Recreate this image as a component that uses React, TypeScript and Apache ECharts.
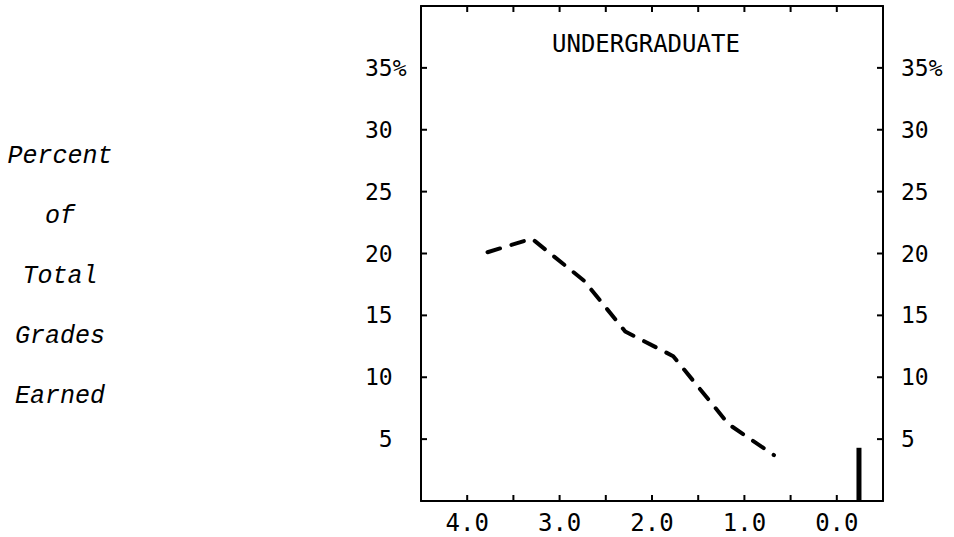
import React, { useEffect, useRef } from "react";
import * as echarts from "echarts";

// Grade-point positions (x) and percent of total grades earned (y)
const gradePoints = [3.78, 3.3, 2.735, 2.29, 1.77, 1.17, 0.68];
const percentEarned = [20.1, 21.2, 17.8, 13.7, 11.7, 6.2, 3.7];
// Failing-grade spike near 0.0
const spikeGrade = [-0.24];
const spikePercent = [4.3];

const chartTitle = "UNDERGRADUATE";
const yTitleLines = ["Percent", "of", "Total", "Grades", "Earned"];
const xTickValues = [4, 3.5, 3, 2.5, 2, 1.5, 1, 0.5, 0];
const yTickValues = [5, 10, 15, 20, 25, 30, 35];
const xMin = -0.5;
const xMax = 4.5;
const yMin = 0;
const yMax = 40;

const MONO = "'DejaVu Sans Mono', 'Liberation Mono', monospace";
const TICK = 6;

function yLabelLeft(v: number): string {
  if (v <= yMin || v >= yMax) return "";
  if (v === 35) return "35%";
  return v < 10 ? " " + v : String(v);
}
function yLabelRight(v: number): string {
  if (v <= yMin || v >= yMax) return "";
  if (v === 35) return "35%";
  return String(v);
}
function xLabel(v: number): string {
  return Number.isInteger(v) && v >= 0 && v <= 4 ? v.toFixed(1) : "";
}

const mkLine = () => ({ show: true, onZero: false, lineStyle: { color: "#000", width: 2 } });
const tickStyle = { stroke: "#000", lineWidth: 2 };

export default function App() {
  const ref = useRef<HTMLDivElement>(null);
  useEffect(() => {
    if (!ref.current) return;
    const chart = echarts.init(ref.current, undefined, { renderer: "svg" });
    chart.setOption({
      animation: false,
      backgroundColor: "#fff",
      title: {
        text: chartTitle,
        left: 547,
        top: 27,
        textStyle: { fontFamily: MONO, fontSize: 24, fontWeight: "normal", color: "#000" },
      },
      grid: { left: 421, right: 71, top: 6, bottom: 36, containLabel: false },
      xAxis: [
        {
          type: "value",
          position: "bottom",
          min: xMin,
          max: xMax,
          interval: 0.5,
          inverse: true,
          axisLine: mkLine(),
          axisTick: { show: false },
          splitLine: { show: false },
          axisLabel: {
            formatter: xLabel,
            margin: 10,
            color: "#000",
            fontFamily: MONO,
            fontSize: 24,
          },
        },
        {
          type: "value",
          position: "top",
          min: xMin,
          max: xMax,
          interval: 0.5,
          inverse: true,
          axisLine: mkLine(),
          axisTick: { show: false },
          splitLine: { show: false },
          axisLabel: { show: false },
        },
      ],
      yAxis: [
        {
          type: "value",
          position: "left",
          min: yMin,
          max: yMax,
          interval: 5,
          axisLine: mkLine(),
          axisTick: { show: false },
          splitLine: { show: false },
          axisLabel: {
            formatter: yLabelLeft,
            align: "left",
            margin: 56,
            color: "#000",
            fontFamily: MONO,
            fontSize: 23,
          },
        },
        {
          type: "value",
          position: "right",
          min: yMin,
          max: yMax,
          interval: 5,
          axisLine: mkLine(),
          axisTick: { show: false },
          splitLine: { show: false },
          axisLabel: {
            formatter: yLabelRight,
            margin: 18,
            color: "#000",
            fontFamily: MONO,
            fontSize: 23,
          },
        },
      ],
      graphic: [
        {
          type: "text",
          x: 60,
          y: 126,
          style: {
            text: yTitleLines.join("\n"),
            align: "center",
            verticalAlign: "top",
            lineHeight: 60,
            fontFamily: "'Liberation Mono', 'DejaVu Sans Mono', monospace",
            fontStyle: "italic",
            fontSize: 25,
            fill: "#000",
          },
        },
      ],
      series: [
        {
          type: "line",
          xAxisIndex: 0,
          yAxisIndex: 0,
          data: gradePoints.map((g, i) => [g, percentEarned[i]]),
          symbol: "none",
          lineStyle: { color: "#000", width: 4, type: [13, 12], cap: "round" },
        },
        {
          type: "bar",
          xAxisIndex: 0,
          yAxisIndex: 0,
          data: spikeGrade.map((g, i) => [g, spikePercent[i]]),
          barWidth: 5,
          itemStyle: { color: "#000" },
        },
        {
          // inward tick marks on the bottom and top frame sides
          type: "custom",
          xAxisIndex: 0,
          yAxisIndex: 0,
          clip: false,
          silent: true,
          data: xTickValues.map((v) => [v, yMin]),
          renderItem: (params: any, api: any) => {
            const v = api.value(0);
            const b = api.coord([v, yMin]);
            const t = api.coord([v, yMax]);
            return {
              type: "group",
              children: [
                { type: "line", shape: { x1: b[0], y1: b[1], x2: b[0], y2: b[1] - TICK }, style: tickStyle },
                { type: "line", shape: { x1: t[0], y1: t[1], x2: t[0], y2: t[1] + TICK }, style: tickStyle },
              ],
            };
          },
        },
        {
          // inward tick marks on the left and right frame sides
          type: "custom",
          xAxisIndex: 0,
          yAxisIndex: 0,
          clip: false,
          silent: true,
          data: yTickValues.map((v) => [xMax, v]),
          renderItem: (params: any, api: any) => {
            const v = api.value(1);
            const l = api.coord([xMax, v]);
            const r = api.coord([xMin, v]);
            return {
              type: "group",
              children: [
                { type: "line", shape: { x1: l[0], y1: l[1], x2: l[0] + TICK, y2: l[1] }, style: tickStyle },
                { type: "line", shape: { x1: r[0], y1: r[1], x2: r[0] - TICK, y2: r[1] }, style: tickStyle },
              ],
            };
          },
        },
      ],
    });
    return () => chart.dispose();
  }, []);
  return (
    <div
      ref={ref}
      style={{ position: "fixed", left: 0, top: 0, width: 954, height: 537, background: "#fff" }}
    />
  );
}
